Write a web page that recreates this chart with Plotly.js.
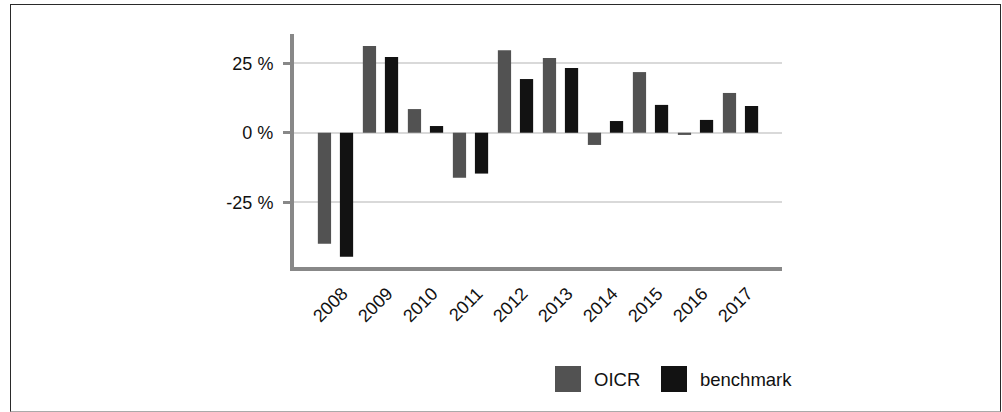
<!DOCTYPE html>
<html>
<head>
<meta charset="utf-8">
<script src="https://cdn.plot.ly/plotly-3.0.1.min.js"></script>
<style>
html, body { margin: 0; padding: 0; background: #fff; }
#chart { position: absolute; left: 0; top: 0; width: 1002px; height: 412px; }
#frame { position: absolute; left: 10px; top: 4px; width: 991px; height: 408px; box-sizing: border-box;
  border: 1px solid #2a2a2a; border-bottom-color: #aaaaaa; pointer-events: none; }
</style>
</head>
<body>
<div id="chart"></div>
<div id="frame"></div>
<script>
// ---- data ----
const years = ['2008','2009','2010','2011','2012','2013','2014','2015','2016','2017'];
const oicr = [-39.9, 31.2, 8.5, -16.2, 29.7, 26.9, -4.4, 21.8, -0.8, 14.3];
const benchmark = [-44.6, 27.2, 2.4, -14.7, 19.3, 23.3, 4.2, 10.0, 4.6, 9.6];
const seriesNames = ['OICR', 'benchmark'];
const yTickVals = [-25, 0, 25];
const yTickText = ['-25 %', '0 %', '25 %'];

// ---- styling ----
const colors = ['#525252', '#121212'];
const FONT = '"Liberation Sans", Arial, sans-serif';
const W = 1002, H = 412;
const M = {l: 294, r: 220, t: 34, b: 145};
const plotW = W - M.l - M.r, plotH = H - M.t - M.b;
const px2x = p => (p - M.l) / plotW;
const px2y = p => (H - M.b - p) / plotH;

const traces = [oicr, benchmark].map((vals, i) => ({
  type: 'bar', x: years, y: vals, name: seriesNames[i],
  marker: {color: colors[i], line: {width: 0}},
  showlegend: false, hoverinfo: 'x+y'
}));

// custom legend (large square swatches)
const legendX = [555, 661];
const shapes = [], annotations = [];
seriesNames.forEach((n, i) => {
  shapes.push({type: 'rect', xref: 'paper', yref: 'paper',
    x0: px2x(legendX[i]), x1: px2x(legendX[i] + 26),
    y0: px2y(392), y1: px2y(366),
    fillcolor: colors[i], line: {width: 0}});
  annotations.push({xref: 'paper', yref: 'paper', x: px2x(legendX[i] + 37), y: px2y(379),
    xanchor: 'left', yanchor: 'middle', showarrow: false, text: n,
    font: {family: FONT, size: 18.5, color: '#111'}});
});

const layout = {
  width: W, height: H,
  margin: M,
  paper_bgcolor: '#fff', plot_bgcolor: '#fff',
  font: {family: FONT, size: 18, color: '#111'},
  barmode: 'group', bargap: 0.02, bargroupgap: 0.4,
  showlegend: false,
  xaxis: {
    type: 'category', range: [-0.922, 9.922],
    showline: true, linecolor: '#888', linewidth: 4,
    ticks: '', tickangle: -45, showgrid: false, zeroline: false,
    ticklabelstandoff: 5, ticklabelshift: 7,
    tickfont: {family: FONT, size: 18, color: '#111'}
  },
  yaxis: {
    range: [-48.3, 35.5], tickmode: 'array', tickvals: yTickVals, ticktext: yTickText,
    showline: true, linecolor: '#888', linewidth: 4,
    ticks: 'outside', ticklen: 7, tickwidth: 3, tickcolor: '#888',
    ticklabelstandoff: 6,
    showgrid: true, gridcolor: '#d9d9d9', gridwidth: 2, zeroline: false,
    tickfont: {family: FONT, size: 18, color: '#111'}
  },
  shapes: shapes, annotations: annotations
};

Plotly.newPlot('chart', traces, layout, {displayModeBar: false, staticPlot: true});
</script>
</body>
</html>
